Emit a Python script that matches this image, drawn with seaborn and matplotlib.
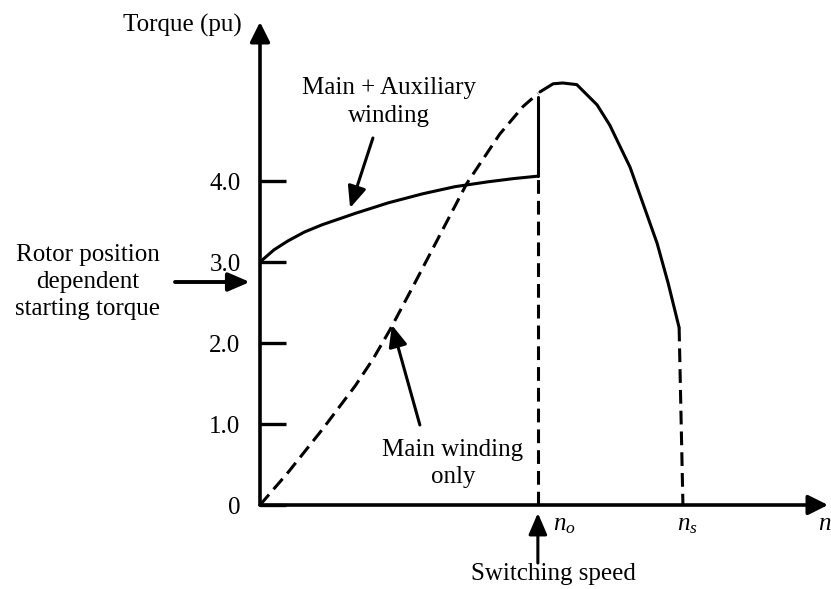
import numpy as np
import pandas as pd
import matplotlib
matplotlib.use("Agg")
import matplotlib.pyplot as plt
import seaborn as sns

# Speed is expressed relative to synchronous speed n_s (n_s = 1.0)
N_O = 0.657   # switching speed
N_S = 1.0

# Main + auxiliary winding torque (start-up region)
aux_speed = [0.0, 0.033, 0.066, 0.105, 0.147, 0.225, 0.303, 0.383, 0.461, 0.539, 0.600, 0.657]
aux_torque = [3.0, 3.15, 3.26, 3.37, 3.46, 3.60, 3.73, 3.84, 3.93, 3.99, 4.03, 4.06]

# Main winding only torque (start-up region)
main_speed = [0.0, 0.066, 0.147, 0.225, 0.267, 0.307, 0.362, 0.426, 0.489, 0.567, 0.622, 0.657]
main_torque = [0.0, 0.40, 0.93, 1.47, 1.80, 2.16, 2.70, 3.34, 3.97, 4.58, 4.92, 5.08]

# Running torque after switching, down to the point near synchronous speed
run_speed = [0.662, 0.693, 0.716, 0.749, 0.797, 0.827, 0.875, 0.905, 0.939, 0.965, 0.991]
run_torque = [5.10, 5.20, 5.21, 5.19, 4.94, 4.69, 4.17, 3.73, 3.23, 2.74, 2.19]

# Torque step at the switching speed and drop at n_s
switch_torque_low = 4.06
switch_torque_high = 5.04
drop_speed = [0.991, N_S]
drop_torque = [2.19, 0.0]

ytick_values = [0, 1, 2, 3, 4]
ytick_labels = ["0", "1.0", "2.0", "3.0", "4.0"]

sns.set_theme(style="white")
plt.rcParams["font.family"] = ["Liberation Serif", "DejaVu Serif"]
plt.rcParams["mathtext.fontset"] = "custom"
plt.rcParams["mathtext.it"] = "Liberation Serif:italic"
plt.rcParams["mathtext.rm"] = "Liberation Serif"

FS = 18
LW = 2.2
DASH = (4.5, 2.3)

fig = plt.figure(figsize=(8.31, 5.89), dpi=100)
ax = fig.add_axes([260 / 831, 84 / 589, 568 / 831, 483 / 589])
ax.set_xlim(0, 1.343)
ax.set_ylim(0, 5.963)

aux_df = pd.DataFrame({"speed": aux_speed, "torque": aux_torque})
main_df = pd.DataFrame({"speed": main_speed, "torque": main_torque})
run_df = pd.DataFrame({"speed": run_speed, "torque": run_torque})

sns.lineplot(data=aux_df, x="speed", y="torque", color="black", lw=LW,
             sort=False, estimator=None, ax=ax)
sns.lineplot(data=main_df, x="speed", y="torque", color="black", lw=LW,
             dashes=DASH, sort=False, estimator=None, ax=ax)
sns.lineplot(data=run_df, x="speed", y="torque", color="black", lw=LW,
             sort=False, estimator=None, ax=ax)

# switching step and the drop at n_s
sns.lineplot(x=[N_O, N_O], y=[switch_torque_low, switch_torque_high], color="black",
             lw=LW, sort=False, estimator=None, ax=ax)
sns.lineplot(x=[N_O, N_O], y=[0.0, switch_torque_low], color="black", lw=LW,
             dashes=DASH, sort=False, estimator=None, ax=ax)
sns.lineplot(x=drop_speed, y=drop_torque, color="black", lw=LW,
             dashes=DASH, sort=False, estimator=None, ax=ax)

# axes drawn as arrows
for sp in ax.spines.values():
    sp.set_visible(False)
axis_arrow = dict(arrowstyle="-|>,head_length=0.6,head_width=0.3", lw=2.6,
                  color="black", mutation_scale=20, shrinkA=0, shrinkB=0)
ax.annotate("", xy=(0, 1), xytext=(0, 0), xycoords="axes fraction",
            arrowprops=axis_arrow, annotation_clip=False)
ax.annotate("", xy=(1, 0), xytext=(0, 0), xycoords="axes fraction",
            arrowprops=axis_arrow, annotation_clip=False)

ax.set_yticks(ytick_values)
ax.set_yticklabels(ytick_labels)
ax.set_xticks([])
ax.tick_params(axis="y", direction="in", length=19, width=2.4, pad=14,
               labelsize=FS, colors="black", left=True)
ax.set_xlabel("")
ax.set_ylabel("")
ax.grid(False)

# annotation arrows
note_arrow = dict(arrowstyle="-|>,head_length=0.65,head_width=0.28", lw=2.2,
                  color="black", mutation_scale=20, shrinkA=0, shrinkB=0)
ax.annotate("", xy=(0.213, 3.667), xytext=(0.267, 4.531), arrowprops=note_arrow,
            annotation_clip=False)
ax.annotate("", xy=(0.312, 2.222), xytext=(0.378, 0.988), arrowprops=note_arrow,
            annotation_clip=False)
ax.annotate("", xy=(N_O, -0.099), xytext=(N_O, -0.716), arrowprops=note_arrow,
            annotation_clip=False)
rotor_arrow = dict(note_arrow, lw=2.8)
ax.annotate("", xy=(-0.024, 2.753), xytext=(-0.201, 2.753), arrowprops=rotor_arrow,
            annotation_clip=False)

# text labels (multi-line blocks are placed by the baseline of their last line)
txt = dict(fontsize=FS, color="black", clip_on=False)
ax.text(-0.043, 5.84, "Torque (pu)", ha="right", va="baseline", **txt)
ax.text(0.305, 4.728, "Main + Auxiliary\nwinding", ha="center", va="baseline",
        multialignment="center", linespacing=1.36, **txt)
ax.text(-0.407, 2.346, "Rotor position\ndependent\nstarting torque", ha="center",
        va="baseline", multialignment="center", linespacing=1.28, **txt)
ax.text(0.456, 0.272, "Main winding\nonly", ha="center", va="baseline",
        multialignment="center", linespacing=1.3, **txt)
ax.text(0.693, -0.926, "Switching speed", ha="center", va="baseline", **txt)
ax.text(0.693, -0.309, r"$n_o$", ha="left", va="baseline", **txt)
ax.text(0.986, -0.309, r"$n_s$", ha="left", va="baseline", **txt)
ax.text(1.319, -0.309, r"$n$", ha="left", va="baseline", **txt)

fig.savefig("out.png", dpi=100)
